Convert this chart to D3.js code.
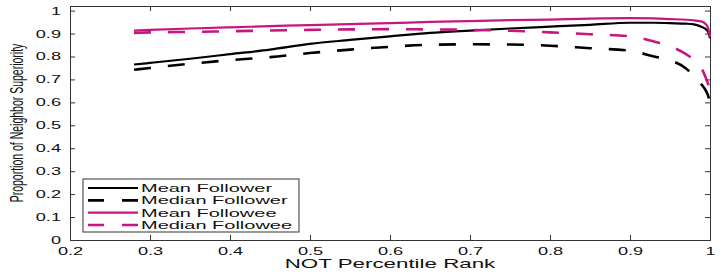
<!DOCTYPE html>
<html>
<head>
<meta charset="utf-8">
<script src="https://cdn.jsdelivr.net/npm/d3@7"></script>
<style>
body { margin: 0; background: #fff; }
text { font-family: "Liberation Sans", Arial, sans-serif; fill: #111; }
</style>
</head>
<body>
<div class="chart"></div>
<script>
// percentile rank grid shared by all four curves
const rank = [0.28, 0.3, 0.35, 0.4, 0.45, 0.5, 0.55, 0.6, 0.65, 0.7, 0.75, 0.8, 0.85, 0.9, 0.93, 0.95, 0.97, 0.98, 0.99, 0.995, 0.998, 1.0];
const meanFollower   = [0.765, 0.772, 0.79, 0.81, 0.83, 0.855, 0.872, 0.888, 0.903, 0.913, 0.922, 0.93, 0.938, 0.947, 0.947, 0.945, 0.943, 0.94, 0.928, 0.918, 0.905, 0.88];
const medianFollower = [0.742, 0.75, 0.768, 0.784, 0.797, 0.815, 0.83, 0.842, 0.851, 0.853, 0.852, 0.847, 0.836, 0.825, 0.80, 0.783, 0.748, 0.715, 0.675, 0.65, 0.625, 0.595];
const meanFollowee   = [0.913, 0.916, 0.922, 0.927, 0.932, 0.937, 0.941, 0.945, 0.951, 0.954, 0.958, 0.961, 0.965, 0.967, 0.966, 0.963, 0.96, 0.957, 0.952, 0.94, 0.92, 0.885];
const medianFollowee = [0.903, 0.905, 0.907, 0.91, 0.913, 0.916, 0.918, 0.919, 0.918, 0.916, 0.912, 0.905, 0.897, 0.888, 0.865, 0.845, 0.81, 0.785, 0.745, 0.705, 0.675, 0.635];

const seriesNames = ["Mean Follower", "Median Follower", "Mean Followee", "Median Followee"];
const xTicks = [0.2, 0.3, 0.4, 0.5, 0.6, 0.7, 0.8, 0.9, 1];
const xTickLabels = ["0.2", "0.3", "0.4", "0.5", "0.6", "0.7", "0.8", "0.9", "1"];
const yTicks = [0, 0.1, 0.2, 0.3, 0.4, 0.5, 0.6, 0.7, 0.8, 0.9, 1];
const yTickLabels = ["0", "0.1", "0.2", "0.3", "0.4", "0.5", "0.6", "0.7", "0.8", "0.9", "1"];

const width = 727, height = 272;
const margin = { top: 6, right: 17, bottom: 32, left: 70 };
const magenta = "#c8157f";
const stretch = 1.65; // text in the figure is stretched sideways

const series = [
    { name: seriesNames[0], values: meanFollower,   color: "#000", dash: null,    w: 2.2 },
    { name: seriesNames[1], values: medianFollower, color: "#000", dash: "17,17", w: 2.6 },
    { name: seriesNames[2], values: meanFollowee,   color: magenta, dash: null,    w: 2.2 },
    { name: seriesNames[3], values: medianFollowee, color: magenta, dash: "17,17", w: 2.6 }
];

const svg = d3.select(".chart").append("svg")
    .attr("width", width)
    .attr("height", height);

const x = d3.scaleLinear().domain([0.2, 1]).range([margin.left, width - margin.right]);
const y = d3.scaleLinear().domain([0, 1.02]).range([height - margin.bottom, margin.top]);

const axisColor = "#333";
// ticks on all four sides, pointing inward
const gX = svg.append("g").attr("transform", `translate(0,${height - margin.bottom})`)
    .call(d3.axisBottom(x).tickValues(xTicks).tickSize(-5).tickPadding(7)
        .tickFormat((d, i) => xTickLabels[i]));
const gXTop = svg.append("g").attr("transform", `translate(0,${margin.top})`)
    .call(d3.axisTop(x).tickValues(xTicks).tickSize(-5).tickFormat(""));
const gY = svg.append("g").attr("transform", `translate(${margin.left},0)`)
    .call(d3.axisLeft(y).tickValues(yTicks).tickSize(-5).tickPadding(9)
        .tickFormat((d, i) => yTickLabels[i]));
const gYRight = svg.append("g").attr("transform", `translate(${width - margin.right},0)`)
    .call(d3.axisRight(y).tickValues(yTicks).tickSize(-5).tickFormat(""));

[gX, gXTop, gY, gYRight].forEach(g => {
    g.select(".domain").attr("stroke", axisColor);
    g.selectAll(".tick line").attr("stroke", axisColor);
});

gX.selectAll("text")
    .style("font-size", "11px")
    .attr("transform", `scale(${stretch},1)`);
gY.selectAll("text")
    .style("font-size", "11px")
    .attr("x", -9 / stretch)
    .attr("transform", `scale(${stretch},1)`);

const line = d3.line()
    .x((d, i) => x(rank[i]))
    .y(d => y(d))
    .curve(d3.curveMonotoneX);

svg.append("g").selectAll("path")
    .data(series)
    .join("path")
    .attr("d", d => line(d.values))
    .attr("fill", "none")
    .attr("stroke", d => d.color)
    .attr("stroke-width", d => d.w)
    .attr("stroke-dasharray", d => d.dash);

// axis titles
svg.append("text")
    .attr("transform", `translate(${(margin.left + width - margin.right) / 2},268) scale(1.72,1)`)
    .attr("text-anchor", "middle")
    .style("font-size", "13px")
    .text("NOT Percentile Rank");

svg.append("text")
    .attr("transform", `translate(17,${(margin.top + height - margin.bottom) / 2}) scale(1.72,1) rotate(-90)`)
    .attr("text-anchor", "middle")
    .attr("dy", "0.35em")
    .style("font-size", "10.5px")
    .text("Proportion of Neighbor Superiority");

// legend
const legend = svg.append("g");
legend.append("rect")
    .attr("x", 83).attr("y", 179)
    .attr("width", 216).attr("height", 53)
    .attr("fill", "#fff")
    .attr("stroke", axisColor);

const rowY = d3.scalePoint().domain(seriesNames).range([188, 225]);
const item = legend.selectAll("g.item")
    .data(series)
    .join("g")
    .attr("class", "item")
    .attr("transform", d => `translate(0,${rowY(d.name)})`);
item.append("line")
    .attr("x1", 88).attr("x2", 138)
    .attr("stroke", d => d.color)
    .attr("stroke-width", d => d.w)
    .attr("stroke-dasharray", d => d.dash ? "16,18" : null);
item.append("text")
    .attr("transform", `translate(141,0) scale(1.74,1)`)
    .attr("dy", "0.36em")
    .style("font-size", "11.5px")
    .text(d => d.name);
</script>
</body>
</html>
